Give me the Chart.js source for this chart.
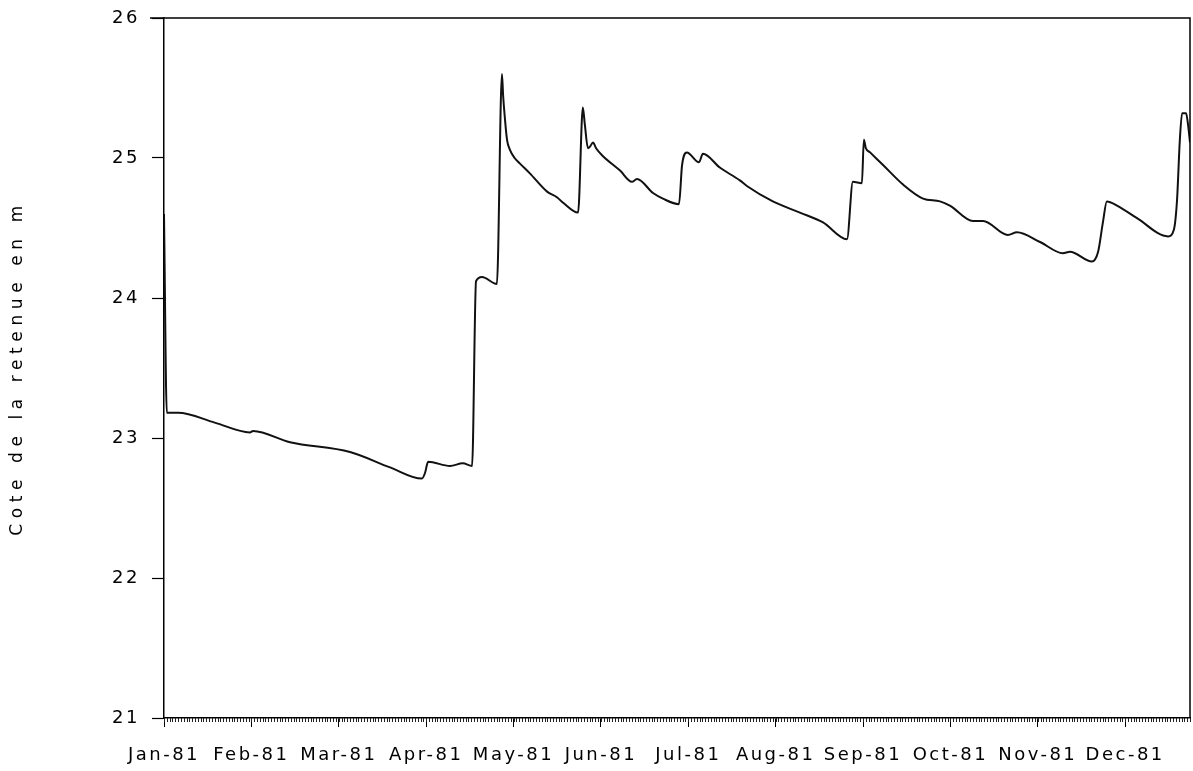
<!DOCTYPE html>
<html>
<head>
<meta charset="utf-8">
<script src="https://cdn.jsdelivr.net/npm/chart.js@4.4.0/dist/chart.umd.min.js"></script>
<style>
  html, body { margin: 0; padding: 0; background: #fff; }
  #wrap { width: 1193px; height: 771px; position: relative; }
</style>
</head>
<body>
<div id="wrap"><canvas id="c" width="1193" height="771"></canvas></div>
<script>
// Day of year (0 = 1 Jan 1981) and reservoir level (m)
const days = [0, 1, 5, 18, 30.5, 31.6, 44.7, 66, 80.2, 91.5, 92.6, 93.7, 101.5, 106, 109.3, 110.7, 112.8, 118.1,
  119.9, 120.3, 121, 121.7, 122.7, 124.4, 126.3, 129.8, 135.9, 139.4, 141.6, 146.9, 148.6, 149.3, 150.4, 151.1, 152.2, 153.3, 155.4, 161.8,
  166, 167.8, 173.5, 177, 182.7, 183.8, 185.5, 189.8, 191.2, 197.3, 204.3, 206.8, 216, 225.6,
  233.8, 242.3, 244.4, 247.6, 248.3, 249, 250.5, 255.1, 262.2, 269.3, 275.3, 278.8, 287, 290.6,
  299.4, 302.6, 310.8, 318.9, 321.4, 329.2, 331.4, 333.1, 334.5, 338.1, 345.2, 356.2, 358.3, 359.4, 360.4,
  361.2, 362.6, 363.3, 364];
const levels = [24.6, 23.18, 23.18, 23.11, 23.04, 23.05, 22.97, 22.9, 22.79, 22.71, 22.75, 22.83, 22.8, 22.82, 22.8, 24.12, 24.15, 24.1,
  25.6, 25.45, 25.27, 25.13, 25.06, 25.0, 24.96, 24.89, 24.76, 24.72, 24.68, 24.61, 25.36, 25.24, 25.07, 25.08, 25.11, 25.07, 25.02, 24.91,
  24.83, 24.85, 24.75, 24.71, 24.67, 24.95, 25.04, 24.97, 25.03, 24.93, 24.84, 24.8, 24.69, 24.61,
  24.54, 24.42, 24.83, 24.82, 25.13, 25.07, 25.04, 24.95, 24.81, 24.71, 24.69, 24.66, 24.55, 24.55,
  24.45, 24.47, 24.4, 24.32, 24.33, 24.26, 24.33, 24.54, 24.69, 24.66, 24.57, 24.44, 24.49, 24.7, 25.13,
  25.32, 25.32, 25.24, 25.11];
const monthLabels = ['Jan-81','Feb-81','Mar-81','Apr-81','May-81','Jun-81','Jul-81','Aug-81','Sep-81','Oct-81','Nov-81','Dec-81'];
const monthTickDays = [0, 31, 62, 93, 124, 155, 186, 217, 248, 279, 310, 341];
const yTicks = [21, 22, 23, 24, 25, 26];
const yTitle = 'Cote de la retenue en m';

const points = days.map((d, i) => ({ x: d, y: levels[i] }));
const FONT = 'DejaVu Sans';

const spacingPlugin = {
  id: 'spacing',
  beforeDraw(chart) {
    chart.ctx.letterSpacing = '2.5px';
    const ys = chart.scales.y;
    if (ys && !ys._patched) {
      const orig = ys.drawTitle;
      ys.drawTitle = function () {
        const ctx = this.ctx;
        const prev = ctx.letterSpacing;
        ctx.letterSpacing = '5.6px';
        orig.apply(this, arguments);
        ctx.letterSpacing = prev;
      };
      ys._patched = true;
    }
  }
};

const framePlugin = {
  id: 'frame',
  afterDraw(chart) {
    const { ctx, chartArea } = chart;
    const xs = chart.scales.x;
    ctx.save();
    ctx.strokeStyle = '#000';
    ctx.lineWidth = 1.5;
    ctx.beginPath();
    ctx.moveTo(chartArea.left - 14, chartArea.top);
    ctx.lineTo(chartArea.right, chartArea.top);
    ctx.lineTo(chartArea.right, chartArea.bottom);
    ctx.stroke();
    // daily minor ticks
    ctx.lineWidth = 1;
    ctx.strokeStyle = '#222';
    ctx.beginPath();
    for (let d = 0; d <= 364; d++) {
      const x = Math.round(xs.getPixelForValue(d)) + 0.5;
      ctx.moveTo(x, chartArea.bottom);
      ctx.lineTo(x, chartArea.bottom + 4);
    }
    ctx.stroke();
    ctx.restore();
  }
};

new Chart(document.getElementById('c'), {
  type: 'line',
  data: {
    datasets: [{
      data: points,
      borderColor: '#111',
      borderWidth: 2,
      pointRadius: 0,
      cubicInterpolationMode: 'monotone',
      fill: false
    }]
  },
  options: {
    responsive: false,
    animation: false,
    devicePixelRatio: 1,
    layout: { padding: { top: 18, right: 3, left: 0, bottom: 0 } },
    plugins: { legend: { display: false }, tooltip: { enabled: false } },
    scales: {
      x: {
        type: 'linear',
        min: 0,
        max: 364,
        afterBuildTicks(axis) { axis.ticks = monthTickDays.map(v => ({ value: v })); },
        afterFit(scale) { scale.height = 53; },
        ticks: {
          autoSkip: false,
          maxRotation: 0,
          minRotation: 0,
          padding: 18,
          color: '#000',
          font: { family: FONT, size: 18 },
          callback(v) { const i = monthTickDays.indexOf(v); return i >= 0 ? monthLabels[i] : ''; }
        },
        grid: { drawOnChartArea: false, tickLength: 9, color: '#000', tickWidth: 1 },
        border: { color: '#000', width: 1.5 }
      },
      y: {
        min: 21,
        max: 26,
        afterBuildTicks(axis) { axis.ticks = yTicks.map(v => ({ value: v })); },
        afterFit(scale) { scale.width = 164; scale.paddingTop = 0; scale.paddingBottom = 0; },
        ticks: {
          padding: 12,
          color: '#000',
          font: { family: FONT, size: 18 }
        },
        grid: { drawOnChartArea: false, tickLength: 12, color: '#000', tickWidth: 1.2 },
        border: { color: '#000', width: 1.5 },
        title: {
          display: true,
          text: yTitle,
          color: '#000',
          font: { family: FONT, size: 17 },
          padding: { top: 7, bottom: 0 }
        }
      }
    }
  },
  plugins: [spacingPlugin, framePlugin]
});
</script>
</body>
</html>
